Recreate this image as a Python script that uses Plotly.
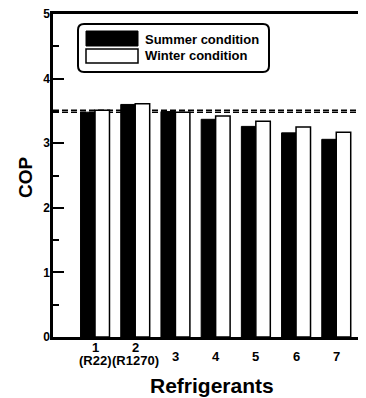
import plotly.graph_objects as go

categories = [1, 2, 3, 4, 5, 6, 7]
tick_labels = ["1", "2", "3", "4", "5", "6", "7"]
tick_sublabels = ["(R22)", "(R1270)", "", "", "", "", ""]
summer = [3.48, 3.60, 3.49, 3.37, 3.26, 3.16, 3.06]
winter = [3.51, 3.61, 3.48, 3.42, 3.34, 3.25, 3.17]
ref_lines = [summer[0], winter[0]]
series_names = ["Summer condition", "Winter condition"]

# page has an 8px body margin, so the figure is placed at (8, 8) in the window
OFF = 8
W, H = 366 - OFF, 398 - OFF
ML, MT, MB, MR = 53 - OFF, 14 - OFF, 61, 0
PW, PH = W - ML - MR, H - MT - MB
FONT = "Liberation Sans, Arial, Helvetica, sans-serif"


def px(x):
    """window pixel x -> paper x"""
    return (x - OFF - ML) / PW


def py(y):
    """window pixel y -> paper y"""
    return (H - MB - (y - OFF)) / PH


fig = go.Figure()
fig.add_trace(go.Bar(x=categories, y=summer, name=series_names[0],
                     marker=dict(color="black", line=dict(color="black", width=1))))
fig.add_trace(go.Bar(x=categories, y=winter, name=series_names[1],
                     marker=dict(color="white", line=dict(color="black", width=1.5))))

shapes = []
for v in ref_lines:
    shapes.append(dict(type="line", xref="paper", yref="y", x0=0, x1=1, y0=v, y1=v,
                       line=dict(color="black", width=1.4, dash="6px,3px"), layer="below"))

# legend box (rounded)
x0, x1, y0, y1, r = 78, 269, 24, 72, 6
path = (f"M {px(x0+r)},{py(y0)} L {px(x1-r)},{py(y0)} Q {px(x1)},{py(y0)} {px(x1)},{py(y0+r)} "
        f"L {px(x1)},{py(y1-r)} Q {px(x1)},{py(y1)} {px(x1-r)},{py(y1)} "
        f"L {px(x0+r)},{py(y1)} Q {px(x0)},{py(y1)} {px(x0)},{py(y1-r)} "
        f"L {px(x0)},{py(y0+r)} Q {px(x0)},{py(y0)} {px(x0+r)},{py(y0)} Z")
shapes.append(dict(type="path", xref="paper", yref="paper", path=path,
                   line=dict(color="black", width=2), fillcolor="white"))
shapes.append(dict(type="rect", xref="paper", yref="paper", x0=px(86), x1=px(138),
                   y0=py(46), y1=py(31), fillcolor="black", line=dict(color="black", width=1)))
shapes.append(dict(type="rect", xref="paper", yref="paper", x0=px(86), x1=px(138),
                   y0=py(63), y1=py(49), fillcolor="white", line=dict(color="black", width=1.5)))

annotations = []
for name, yy in zip(series_names, [39, 56]):
    annotations.append(dict(text=name, xref="paper", yref="paper", x=px(143), y=py(yy),
                            xanchor="left", yanchor="middle", showarrow=False,
                            font=dict(family=FONT, size=13, color="black", weight="bold")))
tfont = dict(family=FONT, size=13, color="black", weight="bold")
for c, t, s in zip(categories, tick_labels, tick_sublabels):
    if s:
        annotations.append(dict(text=t, xref="x", yref="paper", x=c, y=py(347.5),
                                yanchor="middle", xanchor="center", showarrow=False, font=tfont))
        annotations.append(dict(text=s, xref="x", yref="paper", x=c, y=py(360),
                                yanchor="middle", xanchor="center", showarrow=False, font=tfont))
    else:
        annotations.append(dict(text=t, xref="x", yref="paper", x=c, y=py(356.5),
                                yanchor="middle", xanchor="center", showarrow=False, font=tfont))
annotations.append(dict(text="COP", xref="paper", yref="paper", x=px(25), y=py(177),
                        xanchor="center", yanchor="middle", textangle=-90, showarrow=False,
                        font=dict(family=FONT, size=19, color="black", weight="bold")))
annotations.append(dict(text="Refrigerants", xref="paper", yref="paper", x=px(212), y=py(385),
                        xanchor="center", yanchor="middle", showarrow=False,
                        font=dict(family=FONT, size=21, color="black", weight="bold")))

fig.update_layout(
    width=W, height=H,
    margin=dict(l=ML, r=MR, t=MT, b=MB, pad=0),
    paper_bgcolor="white", plot_bgcolor="white",
    barmode="group", bargap=0.28, bargroupgap=0,
    showlegend=False,
    shapes=shapes, annotations=annotations,
    font=dict(family=FONT, color="black"),
)
fig.update_xaxes(range=[-0.045, 7.74], showgrid=False, zeroline=False,
                 showline=True, linecolor="black", linewidth=2.5, mirror=True,
                 ticks="", showticklabels=False)
fig.update_yaxes(range=[0, 5], tickvals=[0, 1, 2, 3, 4, 5], showgrid=False, zeroline=False,
                 showline=True, linecolor="black", linewidth=2.5, mirror=False,
                 ticks="inside", ticklen=11, tickwidth=2, tickcolor="black",
                 minor=dict(tickvals=[0.5, 1.5, 2.5, 3.5, 4.5], ticks="inside", ticklen=6,
                            tickwidth=2, tickcolor="black"),
                 ticklabeloverflow="allow", ticklabelstandoff=-2,
                 tickfont=dict(family=FONT, size=12, color="black", weight="bold"))

fig.write_html("out.html")
